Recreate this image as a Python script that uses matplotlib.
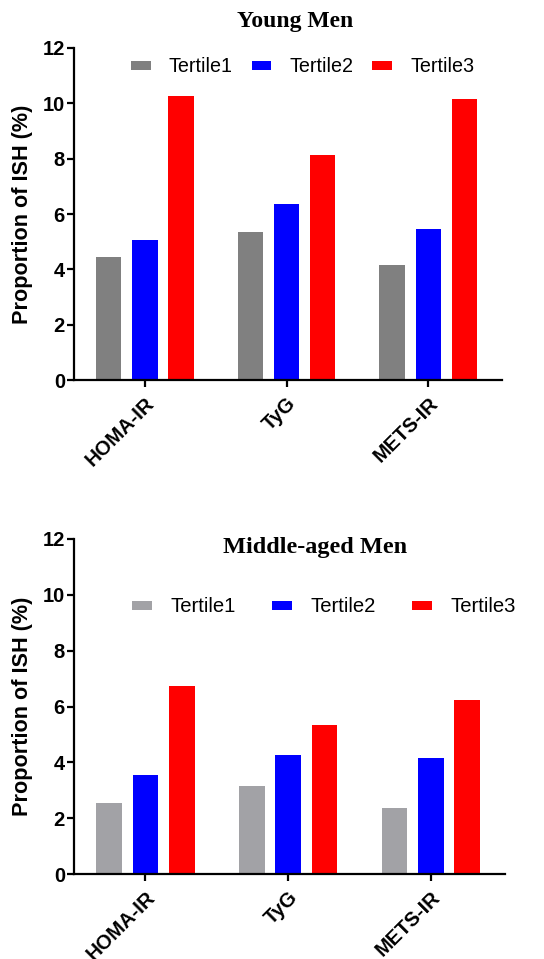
import matplotlib
matplotlib.use("Agg")
import matplotlib.pyplot as plt
import matplotlib.transforms as mtransforms
import numpy as np

categories = ["HOMA-IR", "TyG", "METS-IR"]
series_names = ["Tertile1", "Tertile2", "Tertile3"]
young_t1 = [4.45, 5.35, 4.15]
young_t2 = [5.05, 6.35, 5.45]
young_t3 = [10.25, 8.15, 10.15]
middle_t1 = [2.55, 3.15, 2.35]
middle_t2 = [3.55, 4.25, 4.15]
middle_t3 = [6.75, 5.35, 6.25]
yticks = [0, 2, 4, 6, 8, 10, 12]

W, H = 544, 959
fig = plt.figure(figsize=(W / 100, H / 100), dpi=100)
SANS = ["Liberation Sans", "DejaVu Sans"]
SERIF = ["Liberation Serif", "DejaVu Serif"]


def make_panel(rect, vals, colors, title, title_xy, title_size,
               legend_xy, legend_size, colspacing):
    ax = fig.add_axes(rect)
    x = np.arange(len(categories))
    offsets = [-0.255, 0.0, 0.255]
    width = 0.18
    handles = []
    for off, v, c, name in zip(offsets, vals, colors, series_names):
        b = ax.bar(x + off, v, width, color=c, edgecolor="none", label=name)
        handles.append(b)
    ax.set_xlim(-0.5, 2.52)
    ax.set_ylim(0, 12)
    ax.set_yticks(yticks)
    ax.set_yticklabels([str(t) for t in yticks], fontfamily=SANS,
                       fontweight="bold", fontsize=14.5)
    ax.set_xticks(x)
    ax.set_xticklabels(categories, rotation=45, ha="right", va="top",
                       rotation_mode="anchor", fontfamily=SANS,
                       fontweight="bold", fontsize=14.5)
    offset = mtransforms.ScaledTranslation(7 / 100, -1 / 100,
                                           fig.dpi_scale_trans)
    for lab in ax.get_xticklabels():
        lab.set_transform(lab.get_transform() + offset)
    for s in ["top", "right"]:
        ax.spines[s].set_visible(False)
    for s in ["left", "bottom"]:
        ax.spines[s].set_linewidth(1.6)
    ax.tick_params(axis="both", length=5, width=1.6)
    ax.tick_params(axis="y", pad=1.5)
    ax.tick_params(axis="x", pad=5)
    ax.set_ylabel("Proportion of ISH (%)", fontfamily=SANS,
                  fontweight="bold", fontsize=15.6)
    ax.yaxis.set_label_coords(-0.096, 0.5)
    fig.text(title_xy[0] / W, 1 - title_xy[1] / H, title, ha="center",
             va="center", fontfamily=SERIF, fontweight="bold",
             fontsize=title_size)
    fig.legend(handles=handles, labels=series_names, loc="center left",
               bbox_to_anchor=(legend_xy[0] / W, 1 - legend_xy[1] / H),
               ncol=3, frameon=False,
               prop={"family": SANS, "size": legend_size},
               handlelength=1.0, handleheight=0.33, handletextpad=0.92,
               columnspacing=colspacing, borderpad=0, borderaxespad=0)
    return ax


make_panel([74 / W, 1 - 380 / H, 428 / W, 332 / H],
           [young_t1, young_t2, young_t3],
           ["#808080", "#0000FF", "#FF0000"],
           "Young Men", (295, 22), 17, (131, 67), 14.2, 0.95)
make_panel([74 / W, 1 - 874 / H, 431 / W, 335 / H],
           [middle_t1, middle_t2, middle_t3],
           ["#A2A2A6", "#0000FF", "#FF0000"],
           "Middle-aged Men", (315, 548), 17.5, (132, 607), 14.6, 1.75)

fig.savefig("out.png", dpi=100)
